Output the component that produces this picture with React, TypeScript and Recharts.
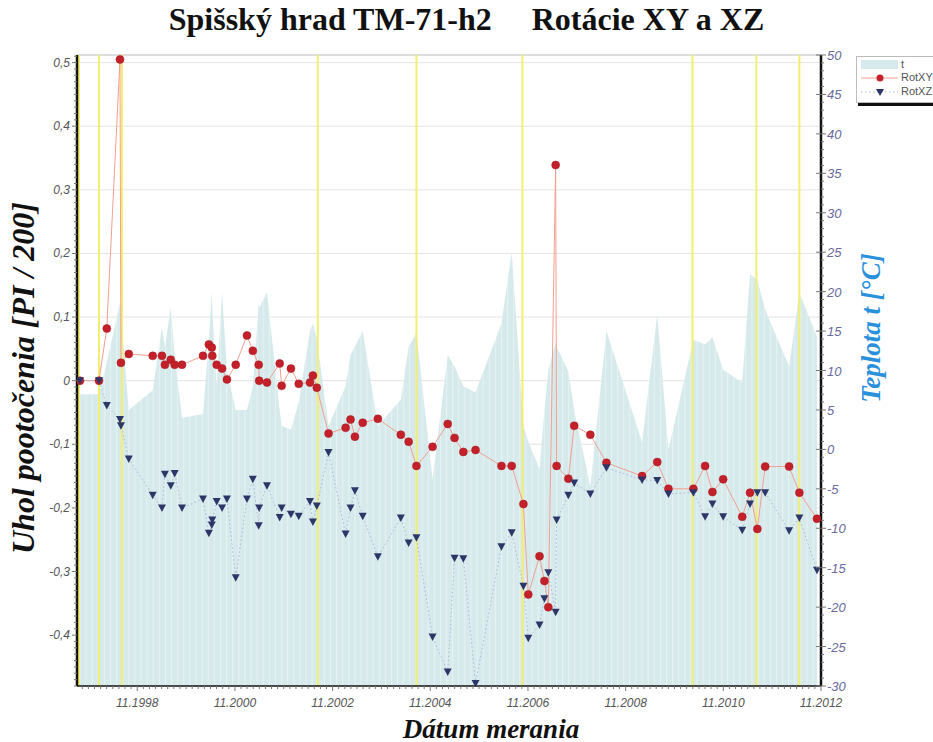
import React from "react";
import {
  ComposedChart,
  Area,
  Line,
  XAxis,
  YAxis,
  CartesianGrid,
  ReferenceLine,
} from "recharts";

// measurement dates (decimal years)
const dates = [
  1997.66, 1998.05, 1998.21, 1998.48, 1998.5, 1998.66, 1999.15, 1999.34, 1999.4, 1999.52, 1999.6, 1999.75,
  2000.18, 2000.3, 2000.36, 2000.37, 2000.46, 2000.57, 2000.67, 2000.85, 2001.08, 2001.2, 2001.32, 2001.33,
  2001.49, 2001.75, 2001.79, 2001.98, 2002.14, 2002.37, 2002.43, 2002.51, 2002.75, 2003.1, 2003.2, 2003.29,
  2003.45, 2003.76, 2004.23, 2004.39, 2004.55, 2004.88, 2005.19, 2005.33, 2005.51, 2005.76, 2006.29, 2006.5,
  2006.74, 2006.84, 2007.07, 2007.17, 2007.25, 2007.4, 2007.42, 2007.66, 2007.78, 2008.11, 2008.44, 2009.17,
  2009.48, 2009.71, 2010.22, 2010.46, 2010.61, 2010.83, 2011.22, 2011.38, 2011.53, 2011.69, 2012.18, 2012.39,
  2012.75,
];

const rotXY = [
  0, 0, 0.082, 0.505, 0.028, 0.042, 0.039, 0.039, 0.025, 0.033, 0.025, 0.025,
  0.039, 0.057, 0.052, 0.039, 0.025, 0.019, 0.002, 0.025, 0.071, 0.047, 0.025, 0,
  -0.003, 0.027, -0.008, 0.019, -0.005, -0.003, 0.008, -0.011,
  -0.083, -0.074, -0.061, -0.088, -0.066, -0.06, -0.085, -0.096, -0.134, -0.104, -0.068, -0.09, -0.112, -0.109,
  -0.134, -0.134, -0.194, -0.336, -0.276, -0.315, -0.356, 0.339, -0.134, -0.154, -0.071, -0.085,
  -0.129, -0.15, -0.128, -0.17, -0.17, -0.134, -0.175, -0.155, -0.214, -0.176, -0.233, -0.135, -0.135, -0.176, -0.217,
];

const rotXZ = [
  0, 0, -0.039, -0.061, -0.071, -0.123, -0.18, -0.2, -0.147, -0.165, -0.146, -0.2,
  -0.186, -0.24, -0.227, -0.219, -0.19, -0.2, -0.186, -0.31, -0.186, -0.155, -0.228, -0.2,
  -0.165, -0.215, -0.2, -0.21, -0.213, -0.19, -0.222, -0.197,
  -0.113, -0.241, -0.2, -0.173, -0.213, -0.277, -0.216, -0.255, -0.247, -0.403, -0.458, -0.279, -0.28, -0.476,
  -0.261, -0.239, -0.323, -0.405, -0.384, -0.343, -0.302, -0.364, -0.219, -0.18, -0.161, -0.178,
  -0.137, -0.156, -0.157, -0.178, -0.176, -0.214, -0.194, -0.214, -0.235, -0.194, -0.176, -0.176, -0.236, -0.216, -0.298,
];

// temperature t [°C]
const temp = [
  7, 7, 11, 18.6, 17, 5, 7.5, 15.5, 13, 18, 12, 4,
  4.5, 14, 19.9, 18, 8, 19.9, 10, 5, 5, 8, 18.6, 18,
  19.9, 5, 3, 2.5, 6, 15, 16, 14,
  3, 8, 12, 13, 15, 3, 6.3, 13, 14.8, -3.8, 12, 10.5, 8, 7.2,
  16, 25, 3, 1, -2.5, 5, 10, 13.5, 13, 9.9, 5, -4.7,
  15, 0.9, 17.1, 0, 13.9, 13.3, 14.2, 10.1, 8.5, 22.2, 21.5, 17.7, 10.5, 19.9, 14.3,
];

// yellow marker lines (dates)
const markerDates = [1997.64, 1998.05, 1998.52, 2002.53, 2004.55, 2006.72, 2010.2, 2011.51, 2012.39];

const xMajorLabels = ["11.1998", "11.2000", "11.2002", "11.2004", "11.2006", "11.2008", "11.2010", "11.2012"];
const xFirstMajor = 1998.833;
const xDomain: [number, number] = [1997.6, 2012.833];
const leftDomain: [number, number] = [-0.48, 0.512];
const rightDomain: [number, number] = [-30, 50];

const leftMajor = [-0.4, -0.3, -0.2, -0.1, 0, 0.1, 0.2, 0.3, 0.4, 0.5];

const xTicks: number[] = [];
for (let n = -9; n <= 112; n++) {
  const v = xFirstMajor + n * 0.125;
  if (v >= xDomain[0] && v <= xDomain[1] + 0.001) xTicks.push(+v.toFixed(4));
}
const leftTicks: number[] = [];
for (let n = -48; n <= 51; n++) leftTicks.push(n / 100);
const rightTicks: number[] = [];
for (let n = -30; n <= 50; n++) rightTicks.push(n);

const rows = dates.map((d, i) => ({ d, xy: rotXY[i], xz: rotXZ[i], t: temp[i] }));

const tickFont = { fontFamily: "Arial, 'Liberation Sans', sans-serif", fontStyle: "italic", fontSize: 12 };

const BottomTick = (props: any) => {
  const { x, y, payload } = props;
  const n = Math.round((payload.value - xFirstMajor) / 0.125);
  const major = n % 16 === 0;
  return (
    <g>
      <line x1={x} x2={x} y1={y} y2={y + (major ? 5 : 3)} stroke="#777" strokeWidth={1} />
      {major && (
        <text x={x} y={y + 21} textAnchor="middle" fill="#555" {...tickFont}>
          {xMajorLabels[n / 16]}
        </text>
      )}
    </g>
  );
};

const LeftTick = (props: any) => {
  const { x, y, payload } = props;
  const n = Math.round(payload.value * 100);
  const major = n % 10 === 0;
  const label = n === 0 ? "0" : (n / 100).toFixed(1).replace(".", ",");
  return (
    <g>
      <line x1={x - (major ? 5 : 3)} x2={x} y1={y} y2={y} stroke="#777" strokeWidth={1} />
      {major && (
        <text x={x - 7} y={y + 4} textAnchor="end" fill="#555" {...tickFont}>
          {label}
        </text>
      )}
    </g>
  );
};

const RightTick = (props: any) => {
  const { x, y, payload } = props;
  const v = Math.round(payload.value);
  const major = v % 5 === 0;
  return (
    <g>
      <line x1={x - (major ? 5 : 0)} x2={x + (major ? 5 : 3)} y1={y} y2={y} stroke="#777" strokeWidth={1} />
      {major && (
        <text x={x + 6} y={y + 5} textAnchor="start" fill="#6a6a9e" {...tickFont} fontSize={13}>
          {v}
        </text>
      )}
    </g>
  );
};

const Circle = (props: any) => {
  const { cx, cy } = props;
  if (cx == null || cy == null) return <g />;
  return <circle cx={cx} cy={cy} r={4} fill="#c4202a" stroke="#a51a22" strokeWidth={0.5} />;
};

const Triangle = (props: any) => {
  const { cx, cy } = props;
  if (cx == null || cy == null) return <g />;
  return <path d={`M${cx - 4},${cy - 3.5} L${cx + 4},${cy - 3.5} L${cx},${cy + 4} Z`} fill="#2c3768" />;
};

const serif = "'Liberation Serif', 'Times New Roman', serif";

export default function App() {
  return (
    <div style={{ position: "absolute", left: 0, top: 0, width: 933, height: 742, background: "#fff", overflow: "hidden" }}>
      <ComposedChart width={933} height={742} data={rows} margin={{ top: 55, right: 72, bottom: 26, left: 27 }}>
        <defs>
          <pattern id="tStripes" width={6.11} height={20} patternUnits="userSpaceOnUse">
            <rect width={6.11} height={20} fill="#d6eaec" />
            <rect width={1} height={20} fill="#e7f2f3" />
          </pattern>
        </defs>
        <XAxis
          dataKey="d"
          type="number"
          domain={xDomain}
          ticks={xTicks}
          interval={0}
          allowDataOverflow
          height={30}
          tickSize={0}
          tickMargin={0}
          tickLine={false}
          tick={<BottomTick />}
          axisLine={{ stroke: "#111", strokeWidth: 1.5 }}
        />
        <YAxis
          yAxisId="left"
          type="number"
          domain={leftDomain}
          ticks={leftTicks}
          interval={0}
          allowDataOverflow
          width={50}
          tickSize={0}
          tickMargin={0}
          tickLine={false}
          tick={<LeftTick />}
          axisLine={{ stroke: "#111", strokeWidth: 2.5 }}
        />
        <YAxis
          yAxisId="right"
          orientation="right"
          type="number"
          domain={rightDomain}
          ticks={rightTicks}
          interval={0}
          allowDataOverflow
          width={40}
          tickSize={0}
          tickMargin={0}
          tickLine={false}
          tick={<RightTick />}
          axisLine={{ stroke: "#111", strokeWidth: 2.5 }}
        />
        <CartesianGrid yAxisId="left" vertical={false} horizontalValues={leftMajor} stroke="#e4e4e4" />
        <ReferenceLine yAxisId="left" y={leftDomain[1]} stroke="#bbb" strokeWidth={1} />
        <Area
          yAxisId="right"
          dataKey="t"
          type="linear"
          baseValue="dataMin"
          fill="url(#tStripes)"
          fillOpacity={1}
          stroke="none"
          isAnimationActive={false}
        />
        {markerDates.map((m) => (
          <ReferenceLine key={m} yAxisId="left" x={m} stroke="#f3ee6e" strokeWidth={2} />
        ))}
        <Line
          yAxisId="left"
          dataKey="xy"
          type="linear"
          stroke="#f2a090"
          strokeWidth={1}
          dot={<Circle />}
          activeDot={false}
          isAnimationActive={false}
        />
        <Line
          yAxisId="left"
          dataKey="xz"
          type="linear"
          stroke="#a9b8d6"
          strokeWidth={1}
          strokeDasharray="1.5 2.5"
          dot={<Triangle />}
          activeDot={false}
          isAnimationActive={false}
        />
      </ComposedChart>

      <div
        style={{
          position: "absolute", left: 0, width: 933, top: 1, textAlign: "center", fontFamily: serif,
          fontWeight: "bold", fontSize: 32, whiteSpace: "pre", color: "#111",
        }}
      >
        {"Spišský hrad TM-71-h2     Rotácie XY a XZ"}
      </div>
      <div
        style={{
          position: "absolute", left: 23, top: 378, transform: "translate(-50%, -50%) rotate(-90deg)",
          fontFamily: serif, fontWeight: "bold", fontStyle: "italic", fontSize: 32, whiteSpace: "nowrap", color: "#111",
        }}
      >
        Uhol pootočenia [PI / 200]
      </div>
      <div
        style={{
          position: "absolute", left: 871, top: 328, transform: "translate(-50%, -50%) rotate(-90deg)",
          fontFamily: serif, fontWeight: "bold", fontStyle: "italic", fontSize: 27, whiteSpace: "nowrap", color: "#2a90dc",
        }}
      >
        Teplota t [°C]
      </div>
      <div
        style={{
          position: "absolute", left: 491, top: 729, transform: "translate(-50%, -50%)",
          fontFamily: serif, fontWeight: "bold", fontStyle: "italic", fontSize: 27, whiteSpace: "nowrap", color: "#111",
        }}
      >
        Dátum merania
      </div>

      <div
        style={{
          position: "absolute", left: 856, top: 56, width: 100, height: 45, background: "#fff",
          border: "1px solid #bbb", boxShadow: "2px 3px 0 #111", fontFamily: "Arial, sans-serif", fontSize: 11, color: "#555",
        }}
      >
        <svg width={46} height={45} style={{ position: "absolute", left: 0, top: 0 }}>
          <rect x={4} y={3} width={37} height={9} fill="#d6eaec" />
          <line x1={4} x2={41} y1={21} y2={21} stroke="#f2a090" />
          <circle cx={23} cy={21} r={3.5} fill="#c4202a" />
          <line x1={4} x2={41} y1={35} y2={35} stroke="#a9b8d6" strokeDasharray="1.5 2.5" />
          <path d="M19,32 L27,32 L23,39 Z" fill="#2c3768" />
        </svg>
        <div style={{ position: "absolute", left: 44, top: 1 }}>t</div>
        <div style={{ position: "absolute", left: 44, top: 14 }}>RotXY</div>
        <div style={{ position: "absolute", left: 44, top: 28 }}>RotXZ</div>
      </div>
    </div>
  );
}
